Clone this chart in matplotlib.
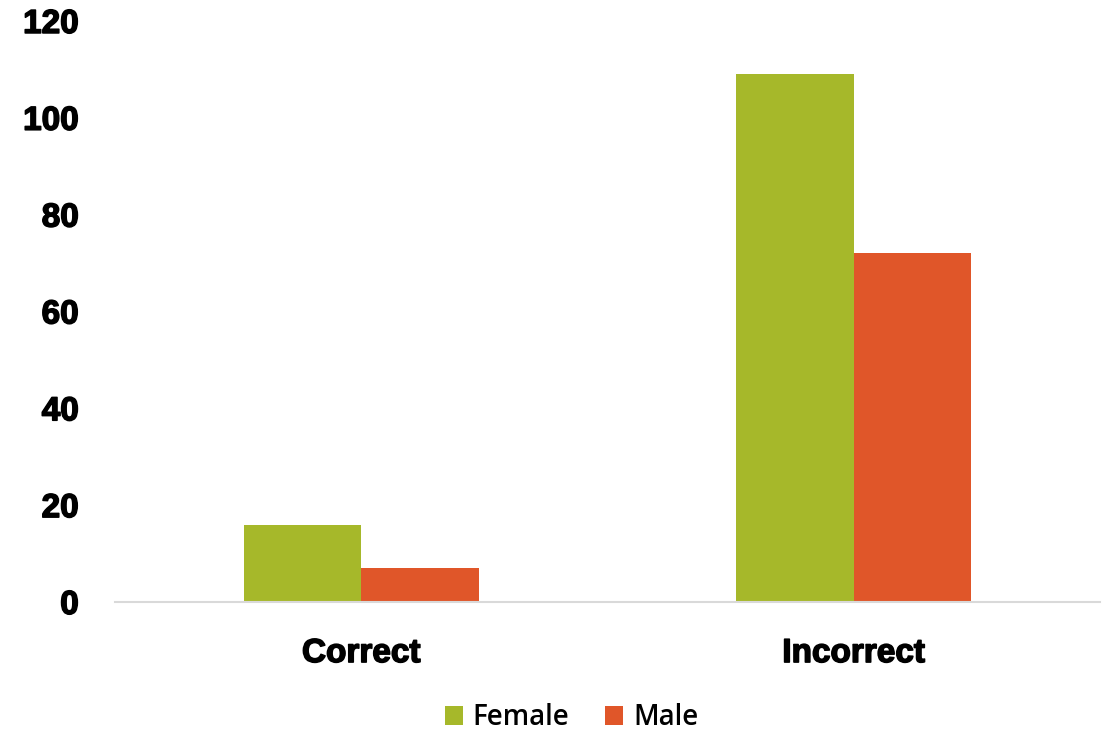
import numpy as np
import matplotlib
matplotlib.use("Agg")
import matplotlib.pyplot as plt
import matplotlib.patheffects as pe

categories = ["Correct", "Incorrect"]
female = [16, 109]
male = [7, 72]
series_names = ["Female", "Male"]
colors = ["#A6B82A", "#E05629"]

fig = plt.figure(figsize=(11.14, 7.31), dpi=100)
ax = fig.add_axes([0.1032, 0.1765, 0.8842, 0.7948])

x = np.arange(len(categories))
w = 0.239
ax.bar(x - w / 2, female, w, color=colors[0], label=series_names[0])
ax.bar(x + w / 2, male, w, color=colors[1], label=series_names[1])

ax.set_xlim(-0.5, 1.5)
ax.set_ylim(0, 120)
ax.set_yticks(range(0, 121, 20))
ax.set_xticks(x)
ax.set_xticklabels(categories)

for s in ["top", "right", "left"]:
    ax.spines[s].set_visible(False)
ax.spines["bottom"].set_color("#d9d9d9")
ax.spines["bottom"].set_linewidth(1.5)

ax.tick_params(axis="both", length=0)
ax.tick_params(axis="y", pad=26)
ax.tick_params(axis="x", pad=26)
# heavier look, close to Arial Black
for lab in ax.get_yticklabels() + ax.get_xticklabels():
    lab.set_fontfamily("Liberation Sans")
    lab.set_fontweight("bold")
    lab.set_fontsize(24)
    lab.set_path_effects([pe.withStroke(linewidth=1.1, foreground="black")])

leg = fig.legend(loc="lower center", bbox_to_anchor=(0.513, -0.036), ncol=2,
                 frameon=False,
                 prop={"family": "Open Sans", "size": 20, "weight": "semibold"},
                 handlelength=0.65, handleheight=0.65, handletextpad=0.35,
                 columnspacing=1.3)

fig.savefig("out.png", dpi=100)
